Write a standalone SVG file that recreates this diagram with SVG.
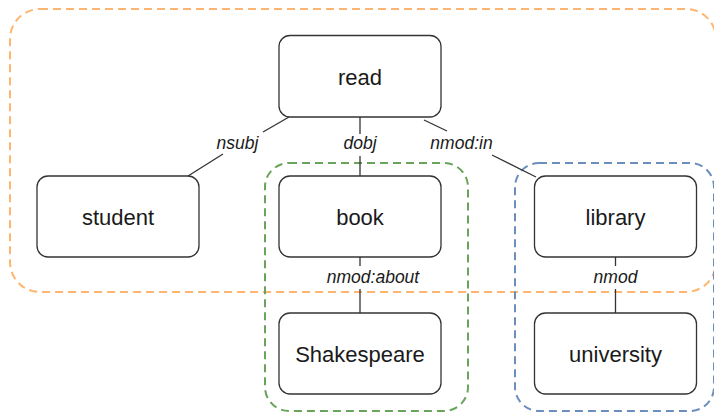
<svg xmlns="http://www.w3.org/2000/svg" width="714" height="415" viewBox="0 0 714 415">
<style>
.node rect{fill:#fff;stroke:#333;stroke-width:1.3}
.node text{font-family:"Liberation Sans",Arial,sans-serif;font-size:22px;fill:#1a1a1a;text-anchor:middle}
.grp{fill:none;stroke-width:2;stroke-dasharray:8 5}
.edge line{stroke:#333;stroke-width:1.3}
.lbl{font-family:"Liberation Sans",Arial,sans-serif;font-size:17.5px;font-style:italic;fill:#1a1a1a;text-anchor:middle}
</style>
<rect width="714" height="415" fill="#fff"/>
<g id="groups">
<rect id="grp-orange" class="grp" x="10" y="9" width="706" height="283" rx="30" stroke="#FFB570"/>
<rect id="grp-green" class="grp" x="265" y="163" width="203" height="248" rx="24" stroke="#6AA35A"/>
<rect id="grp-blue" class="grp" x="515" y="163" width="199" height="248" rx="24" stroke="#6C8EBF"/>
</g>
<g id="connectors" class="edge">
<line x1="289" y1="117" x2="263" y2="132"/>
<line x1="223" y1="154" x2="188" y2="176"/>
<text class="lbl" x="237.5" y="149">nsubj</text>
<line x1="360" y1="117" x2="360" y2="134"/>
<line x1="360" y1="156" x2="360" y2="176"/>
<text class="lbl" x="360" y="149">dobj</text>
<line x1="424" y1="120" x2="447" y2="131"/>
<line x1="492" y1="155" x2="536" y2="177"/>
<text class="lbl" x="461.5" y="149">nmod:in</text>
<line x1="360" y1="257" x2="360" y2="266"/>
<line x1="360" y1="289" x2="360" y2="313"/>
<text class="lbl" x="373" y="283">nmod:about</text>
<line x1="615.5" y1="257" x2="615.5" y2="266"/>
<line x1="615.5" y1="289" x2="615.5" y2="313"/>
<text class="lbl" x="615.5" y="283">nmod</text>
</g>
<g id="node-read" class="node"><rect x="279" y="35.5" width="162" height="81.5" rx="11"/><text x="360" y="84.5">read</text></g>
<g id="node-student" class="node"><rect x="37" y="176" width="162" height="81" rx="11"/><text x="118" y="225">student</text></g>
<g id="node-book" class="node"><rect x="279" y="176" width="162" height="81" rx="11"/><text x="360" y="225">book</text></g>
<g id="node-library" class="node"><rect x="534.5" y="176" width="162" height="81" rx="11"/><text x="615.5" y="225">library</text></g>
<g id="node-shakespeare" class="node"><rect x="279" y="313" width="162" height="81" rx="11"/><text x="360" y="362">Shakespeare</text></g>
<g id="node-university" class="node"><rect x="534.5" y="313" width="162" height="81" rx="11"/><text x="615.5" y="362">university</text></g>
</svg>
